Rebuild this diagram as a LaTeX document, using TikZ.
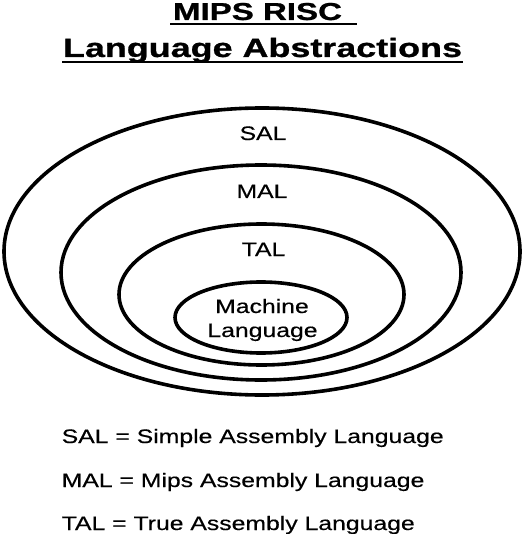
\documentclass[tikz,border=0pt]{standalone}
\usepackage{fontspec}
\usepackage{graphicx}
\setmainfont{Liberation Sans}
\newfontfamily\bodyfont[FakeStretch=1.27,FakeBold=0.4]{Liberation Sans}
\newfontfamily\headfont[FakeBold=0.8]{Liberation Sans}
\usetikzlibrary{shapes.geometric}
\tikzset{
  ring/.style={draw=black, line width=3.6pt, ellipse, inner sep=0pt, fill=none},
  lbl/.style={inner sep=0pt, anchor=base, font=\bodyfont\fontsize{19.5}{22}\selectfont},
  leg/.style={inner sep=0pt, anchor=base west, font=\bodyfont\fontsize{19.5}{22}\selectfont},
  ttl/.style={inner sep=0pt, anchor=base, font=\headfont\bfseries\fontsize{26.5}{30}\selectfont},
  uline/.style={line width=2pt}
}
\begin{document}
\begin{tikzpicture}[x=1pt,y=-1pt]
\useasboundingbox[fill=white] (0,0) rectangle (523,534);
% title
\node[ttl, font=\headfont\bfseries\fontsize{24.5}{28}\selectfont] (t1) at (257.5,20) {\resizebox{169pt}{\height}{MIPS RISC}};
\node[ttl] (t2) at (262.5,57) {\resizebox{399pt}{\height}{Language Abstractions}};
\draw[uline] (170,24.5) -- (357,24.5);
\draw[uline] (62,62) -- (463,62);
% rings
\node[ring, minimum width=516pt, minimum height=287pt] (sal) at (262,251.5) {};
\node[ring, minimum width=400pt, minimum height=215pt] (mal) at (261,272.5) {};
\node[ring, minimum width=285pt, minimum height=141pt] (tal) at (261.5,294.5) {};
\node[ring, minimum width=172pt, minimum height=71pt] (ml) at (261,317.5) {};
% labels
\node[lbl] (salt) at (263,140) {SAL};
\node[lbl] (malt) at (262,198) {MAL};
\node[lbl] (talt) at (263.5,256) {TAL};
\node[lbl] (mlt1) at (262,313) {Machine};
\node[lbl] (mlt2) at (262.5,337) {Language};
% legend
\node[leg] (l1) at (61.5,443) {SAL = Simple Assembly Language};
\node[leg] (l2) at (61.5,487) {MAL = Mips Assembly Language};
\node[leg] (l3) at (61.5,530) {TAL = True Assembly Language};
\end{tikzpicture}
\end{document}
